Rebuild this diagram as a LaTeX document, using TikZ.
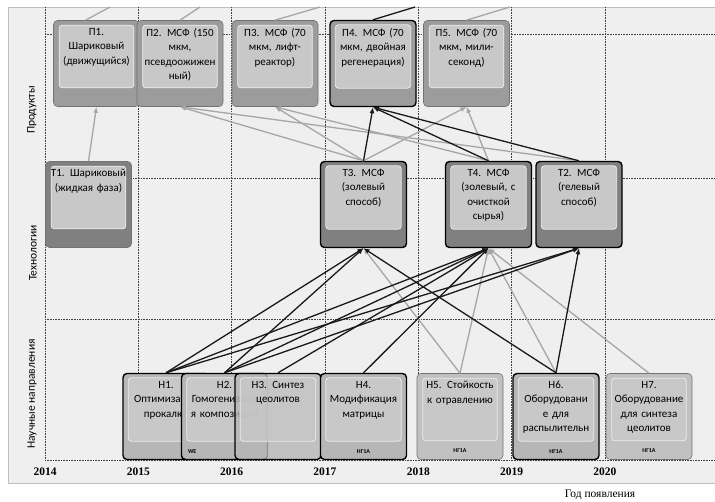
\documentclass[tikz,border=0pt]{standalone}
\usepackage{fontspec}
\setmainfont{Carlito}
\newfontfamily\yearfont{Liberation Serif}
\usetikzlibrary{arrows.meta, positioning}

\definecolor{panelbg}{HTML}{EFEFEF}
\definecolor{prodfill}{HTML}{9C9C9C}
\definecolor{techfill}{HTML}{808080}
\definecolor{sciefill}{HTML}{B6B6B6}
\definecolor{innerfill}{HTML}{C8C8C8}
\definecolor{linkgrey}{HTML}{A6A6A6}

% card: name, position, outer fill, extra style, text, footer
\newcommand{\cardbox}[6]{%
  \node[card, fill=#3, #4] (#1) at (#2) {};
  \draw[inbox] ([shift={(6,5)}]#1.north west) rectangle ([shift={(-6,-19)}]#1.south east);
  \node[cardtext, below=7pt of #1.north] (#1-txt) {#5};
  \node[foot] (#1-foot) at ([shift={(0,-9)}]#1.south) {#6};
}

\begin{document}
\begin{tikzpicture}[
    x=1pt, y=-1pt,
    card/.style={rectangle, rounded corners=4pt, minimum width=86pt, minimum height=86pt,
                 inner sep=0pt, draw=black!55, line width=0.6pt},
    hot/.style={draw=black, line width=1.4pt},
    inbox/.style={rounded corners=3pt, fill=innerfill, draw=white!85!gray, line width=0.8pt},
    cardtext/.style={align=center, text width=84pt, inner sep=1pt,
                     font=\fontsize{11}{14.5}\selectfont},
    foot/.style={font=\fontsize{6}{6}\selectfont\bfseries, inner sep=0pt},
    grid/.style={densely dotted, black!75, line width=0.6pt},
    lane/.style={rotate=90, font=\fontsize{11.5}{13}\selectfont},
    gl/.style={draw=linkgrey, line width=1.3pt, -{Latex[length=6pt,width=5pt]}},
    bl/.style={draw=black!90, line width=1.3pt, -{Latex[length=6pt,width=5pt]}}
  ]
    \useasboundingbox (0,0) rectangle (715,501);
    \fill[panelbg] (8,7) rectangle (715,483);
    \draw[black!25] (715,7) -- (8,7) -- (8,483) -- (715,483);

    % years and lanes
    \foreach \i in {0,...,6}
      \draw[grid] (45+93.33*\i,7) -- (45+93.33*\i,460);
    \foreach \yy in {34,178,319,460}
      \draw[grid] (45,\yy) -- (715,\yy);
    \foreach \yr [count=\i from 0] in {2014,...,2020}
      \node[font=\yearfont\bfseries\fontsize{11.5}{12}\selectfont] (yr\yr) at (45+93.33*\i,472) {\yr};
    \node[font=\yearfont\fontsize{11.5}{12}\selectfont, anchor=north] (xlabel) at (600,486) {Год появления};

    \node[lane] (lprod) at (32,110) {Продукты};
    \node[lane] (ltech) at (33,253) {Технологии};
    \node[lane] (lscie) at (32,394) {Научные направления};

    % products
    \cardbox{p1}{96.5,63.5}{prodfill}{}{П1.\\Шариковый\\(движущийся)}{}
    \cardbox{p2}{180,63.5}{prodfill}{}{П2. МСФ (150\\мкм,\\псевдоожижен\\ный)}{}
    \cardbox{p3}{275,63.5}{prodfill}{}{П3. МСФ (70\\мкм, лифт-\\реактор)}{}
    \cardbox{p4}{373,63.5}{prodfill}{hot}{П4. МСФ (70\\мкм, двойная\\регенерация)}{}
    \cardbox{p5}{466.5,63.5}{prodfill}{}{П5. МСФ (70\\мкм, мили-\\секонд)}{}

    % technologies
    \cardbox{t1}{88.5,204.5}{techfill}{}{Т1. Шариковый\\(жидкая фаза)}{}
    \cardbox{t3}{363.5,204.5}{techfill}{hot}{Т3. МСФ\\(золевый\\способ)}{}
    \cardbox{t4}{488.5,204.5}{techfill}{hot}{Т4. МСФ\\(золевый, с\\очисткой\\сырья)}{}
    \cardbox{t2}{579,204.5}{techfill}{hot}{Т2. МСФ\\(гелевый\\способ)}{}

    % research lines
    \cardbox{h1}{166,416.5}{sciefill}{hot}{Н1.\\Оптимизация\\прокалки}{}
    \cardbox{h2}{224.5,416.5}{sciefill}{hot}{Н2.\\Гомогенизаци\\я композиций}{}
    \node[foot, anchor=west] (h2-we) at ([shift={(7,-9)}]h2.south west) {WE};
    \begin{scope}[fill opacity=0.8, text opacity=1]
      \cardbox{h3}{278,416.5}{sciefill}{hot}{Н3. Синтез\\цеолитов}{}
    \end{scope}
    \cardbox{h4}{363.5,416.5}{sciefill}{hot}{Н4.\\Модификация\\матрицы}{НГ1А}
    \cardbox{h5}{460,416.5}{sciefill!85!white}{}{Н5. Стойкость\\к отравлению}{НГ1А}
    \cardbox{h6}{556,416.5}{sciefill}{hot}{Н6.\\Оборудовани\\е для\\распылительн}{НГ1А}
    \cardbox{h7}{649,416.5}{sciefill!85!white}{}{Н7.\\Оборудование\\для синтеза\\цеолитов}{НГ1А}

    % links leaving the picture upwards
    \coordinate (p1up) at (110,7);
    \coordinate (p2up) at (200,7);
    \coordinate (p3up) at (320,7);
    \coordinate (p4up) at (415,7);
    \coordinate (p5up) at (510,7);
    \draw[linkgrey, line width=1.3pt] ([xshift=-11pt]p1.north) -- (p1up);
    \draw[linkgrey, line width=1.3pt] (p2.north) -- (p2up);
    \draw[linkgrey, line width=1.3pt] (p3.north) -- (p3up);
    \draw[black!90, line width=1.3pt] (p4.north) -- (p4up);
    \draw[linkgrey, line width=1.3pt] (p5.north) -- (p5up);

    % technologies -> products
    \draw[gl] (t1.north) -- (p1.south);
    \draw[gl] (t3.north) -- (p2.south);
    \draw[gl] (t2.north) -- (p2.south);
    \draw[gl] (t3.north) -- (p3.south);
    \draw[gl] (t4.north) -- (p3.south);
    \draw[gl] (t3.north) -- (p5.south);
    \draw[gl] (t4.north) -- (p5.south);
    \draw[bl] (t3.north) -- (p4.south);
    \draw[bl] (t4.north) -- (p4.south);
    \draw[bl] (t2.north) -- (p4.south);

    % research -> technologies
    \draw[gl] (h5.north) -- (t3.south);
    \draw[gl] (h5.north) -- (t4.south);
    \draw[gl] (h6.north) -- (t4.south);
    \draw[gl] (h7.north) -- (t4.south);
    \draw[bl] (h1.north) -- (t3.south);
    \draw[bl] (h1.north) -- (t4.south);
    \draw[bl] (h1.north) -- (t2.south);
    \draw[bl] (h2.north) -- (t3.south);
    \draw[bl] (h2.north) -- (t4.south);
    \draw[bl] (h2.north) -- (t2.south);
    \draw[bl] (h3.north) -- (t4.south);
    \draw[bl] (h4.north) -- (t4.south);
    \draw[bl] (h6.north) -- (t3.south);
    \draw[bl] (h6.north) -- (t2.south);
\end{tikzpicture}
\end{document}
